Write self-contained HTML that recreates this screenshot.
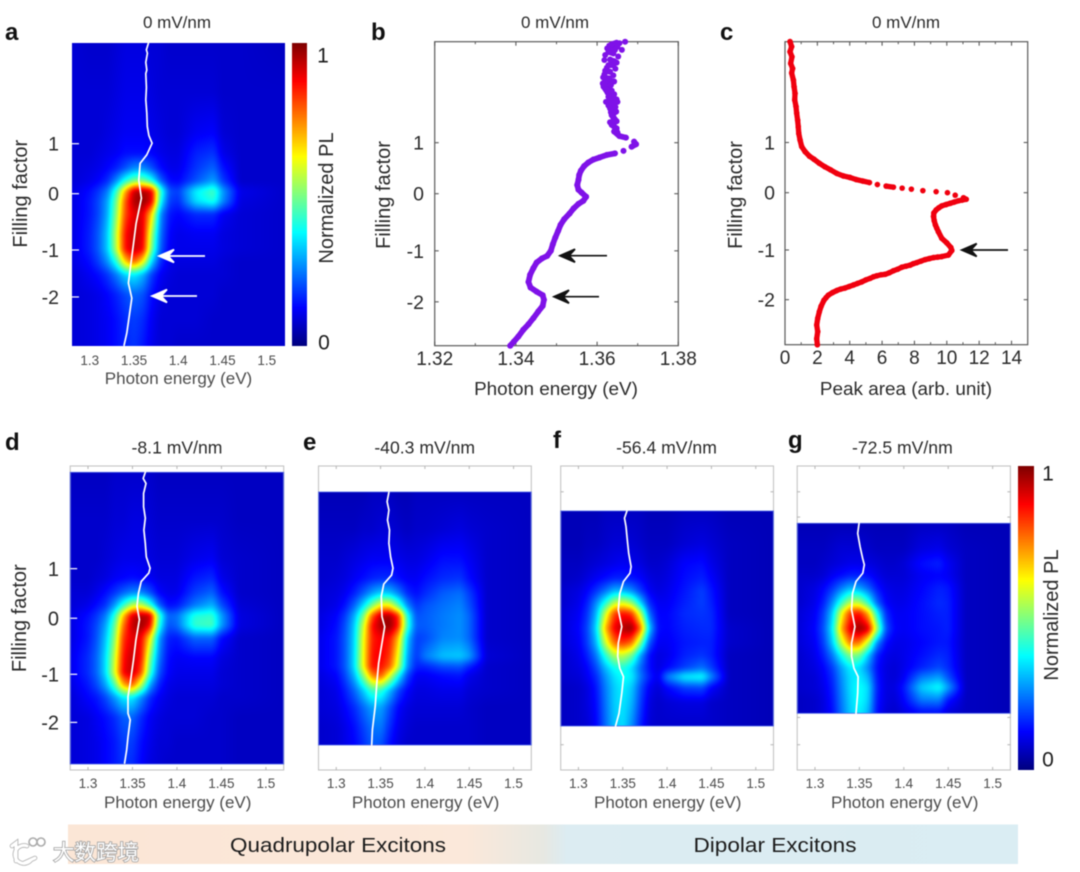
<!DOCTYPE html>
<html lang="en">
<head>
<meta charset="utf-8">
<title>Photoluminescence vs filling factor</title>
<style>
html,body{margin:0;padding:0;background:#fff;width:1080px;height:872px;overflow:hidden}
#root{position:relative;width:1080px;height:872px;background:#fff;filter:blur(0.4px);font-family:"Liberation Sans","Noto Sans CJK SC",sans-serif}
canvas{position:absolute;display:block}
svg{position:absolute;left:0;top:0}
</style>
</head>
<body>
<div id="root">
<canvas id="hm-a"></canvas>
<canvas id="hm-d"></canvas>
<canvas id="hm-e"></canvas>
<canvas id="hm-f"></canvas>
<canvas id="hm-g"></canvas>
<canvas id="cb-1"></canvas>
<canvas id="cb-2"></canvas>
<svg id="ov" width="1080" height="872" viewBox="0 0 1080 872" font-family="'Liberation Sans','Noto Sans CJK SC',sans-serif">
<defs>
<linearGradient id="bandGrad" x1="0" x2="1" y1="0" y2="0">
<stop offset="0" stop-color="#fbe6d6"/><stop offset="0.42" stop-color="#fbe8da"/><stop offset="0.5" stop-color="#e7e8e2"/><stop offset="0.525" stop-color="#dcecf2"/><stop offset="1" stop-color="#daedf3"/>
</linearGradient>
</defs>
<g id="letters" font-weight="bold" font-size="24" fill="#111">
<text x="5" y="40">a</text>
<text x="371" y="40">b</text>
<text x="720" y="40">c</text>
<text x="5" y="450">d</text>
<text x="303" y="450">e</text>
<text x="553" y="448">f</text>
<text x="788" y="448">g</text>
</g>
<g id="titles" fill="#2a2a2a" text-anchor="middle">
<text x="177" y="28" font-size="17">0 mV/nm</text>
<text x="555" y="28" font-size="17">0 mV/nm</text>
<text x="906" y="28" font-size="17">0 mV/nm</text>
<text x="177" y="453.5" font-size="17.6">-8.1 mV/nm</text>
<text x="424.7" y="453.5" font-size="17.6">-40.3 mV/nm</text>
<text x="666.5" y="453.5" font-size="17.6">-56.4 mV/nm</text>
<text x="902.4" y="453.5" font-size="17.6">-72.5 mV/nm</text>
</g>
<g id="band">
<rect x="68" y="824.5" width="950" height="39.5" fill="url(#bandGrad)"/>
<text x="338" y="852" font-size="20.5" text-anchor="middle" fill="#1c1c1c" textLength="216" lengthAdjust="spacingAndGlyphs">Quadrupolar Excitons</text>
<text x="775" y="852" font-size="20.5" text-anchor="middle" fill="#1c1c1c" textLength="163" lengthAdjust="spacingAndGlyphs">Dipolar Excitons</text>
</g>
<g id="watermark">
<path d="M12 846 L16 843 L16 861 M27 846 A9 9 0 1 0 31 860 M35 858 L24 863" fill="none" stroke="#b0b0b0" stroke-width="4.6" stroke-linecap="round"/>
<path d="M12 846 L16 843 L16 861 M27 846 A9 9 0 1 0 31 860 M35 858 L24 863" fill="none" stroke="#fff" stroke-width="3" stroke-linecap="round"/>
<circle cx="33" cy="842" r="4" fill="#fff" fill-opacity="0.4" stroke="#aaa" stroke-width="1.6"/>
<circle cx="41" cy="842" r="4" fill="#fff" fill-opacity="0.4" stroke="#aaa" stroke-width="1.6"/>
<text x="53" y="860" font-size="21.5" fill="#fff" stroke="#a0a0a0" stroke-width="1.6" paint-order="stroke" font-family="'Liberation Sans','Noto Sans CJK SC',sans-serif">大数跨境</text>
</g>
</svg>
</div>
<script>
/* ---------- shared axis values ---------- */
const photonEnergyCols = [1.28,1.30,1.31,1.32,1.33,1.34,1.35,1.36,1.37,1.38,1.39,1.40,1.42,1.44,1.45,1.47,1.52];
const heatmapEnergyTicks = [1.3,1.35,1.4,1.45,1.5];
const heatmapEnergyTickLabels = ['1.3','1.35','1.4','1.45','1.5'];
const fillingTickLabels = ['1','0','-1','-2'];
const fillingTicksA = [0.99,0,-1.115,-2.045];
const fillingTicksB = [1,0,-1.12,-2.12];
const fillingTicksC = [0.99,0,-1.13,-2.11];
const fillingTicksD = [1,0,-1.13,-2.10];
const outerTicksRight = [2.55,2.04,-2.0,-2.55];
const energyTicksB = [1.32,1.34,1.36,1.38];
const energyTickLabelsB = ['1.32','1.34','1.36','1.38'];
const energyMinorB = [1.33,1.35,1.37];
const areaTicksC = [0,2,4,6,8,10,12,14];
const areaTickLabelsC = ['0','2','4','6','8','10','12','14'];
const areaMinorC = [1,3,5,7,9,11,13];

/* ---------- heatmap filling rows and normalized PL (x100) ---------- */
const fillingRowsA = [3.0,2.0,1.2,0.8,0.5,0.25,0.05,-0.15,-0.4,-0.8,-1.1,-1.35,-1.6,-2.0,-2.5,-3.05];
const plA = [
[10,9,9,9,10,11,11,11,10,10,9,9,9,9,9,9,8],
[10,10,10,10,11,12,12,12,11,10,10,10,10,10,9,9,9],
[10,10,10,11,12,13,13,13,12,11,10,10,13,14,10,9,9],
[10,10,11,12,13,15,15,15,14,12,11,11,17,19,12,9,9],
[10,11,12,14,17,22,28,28,22,15,12,12,19,24,16,9,9],
[10,12,14,18,28,42,52,52,42,24,15,14,22,30,20,9,9],
[11,15,19,26,44,72,95,98,92,45,22,20,38,46,30,12,9],
[11,16,21,30,50,80,97,100,92,40,20,18,36,42,28,11,9],
[11,16,21,31,53,82,92,92,68,28,16,14,18,18,13,10,9],
[11,17,23,34,58,88,95,92,55,25,14,12,13,13,11,10,9],
[11,17,23,34,57,88,95,90,50,23,13,12,12,12,11,10,9],
[11,15,20,28,42,68,80,65,35,18,12,11,11,11,10,9,9],
[10,13,15,19,26,35,38,32,20,13,11,10,10,10,10,9,9],
[10,11,12,14,17,21,24,22,15,11,10,10,10,10,9,9,9],
[10,11,12,13,15,18,20,18,13,10,10,10,10,9,9,9,9],
[10,11,12,13,15,17,19,16,12,10,10,9,9,9,9,9,9]];

const fillingRowsD = [2.95,2.0,1.2,0.8,0.5,0.25,0.05,-0.15,-0.4,-0.8,-1.1,-1.35,-1.6,-2.0,-2.5,-2.95];
const plD = [
[8,8,8,8,9,9,9,9,9,8,8,8,8,8,8,8,8],
[9,9,9,9,10,10,11,11,10,9,9,9,9,9,9,8,8],
[9,9,9,10,11,12,12,12,11,10,10,10,12,13,10,9,8],
[9,9,10,11,13,14,15,14,13,11,11,11,16,18,12,9,8],
[10,10,12,15,19,24,28,28,22,14,12,12,20,24,16,9,8],
[10,12,15,19,29,44,58,60,45,24,15,16,26,32,22,10,8],
[11,15,19,26,42,70,93,97,95,46,24,25,42,44,30,11,8],
[11,16,21,30,48,78,95,99,90,42,22,24,44,46,30,11,8],
[11,16,22,33,52,84,92,90,66,30,17,16,24,24,15,9,8],
[12,18,24,36,58,88,95,88,52,26,15,13,14,14,11,9,8],
[12,18,24,36,60,90,95,82,45,22,14,12,12,12,10,9,8],
[11,16,21,30,46,72,80,58,30,17,12,11,11,11,10,9,8],
[10,14,16,21,29,38,38,28,18,13,11,10,10,10,9,9,8],
[10,11,13,15,18,23,24,18,13,11,10,10,10,9,9,8,8],
[10,11,12,14,16,20,20,15,12,10,10,9,9,9,9,8,8],
[10,11,12,14,16,19,18,14,11,10,9,9,9,9,9,8,8]];

const fillingRowsE = [2.55,1.8,1.2,0.8,0.5,0.25,0.05,-0.15,-0.4,-0.77,-0.98,-1.15,-1.45,-1.8,-2.2,-2.55];
const plE = [
[7,7,7,7,7,8,8,8,7,7,8,8,8,8,8,8,8],
[8,8,8,8,9,9,10,10,9,8,9,9,10,11,10,9,8],
[9,9,10,11,12,13,13,13,12,11,11,12,15,15,13,9,8],
[9,10,11,13,15,17,18,18,15,13,13,15,18,19,15,9,8],
[10,11,13,17,23,30,35,34,27,18,15,18,23,25,20,9,8],
[10,12,16,24,36,52,66,66,48,28,19,22,25,27,22,9,8],
[11,14,20,31,50,80,96,98,85,42,22,23,26,28,24,9,8],
[11,15,22,34,58,88,97,100,86,44,23,23,26,28,24,9,8],
[12,16,23,35,62,86,90,88,70,34,20,21,27,28,24,9,8],
[12,16,23,36,63,88,90,84,62,30,19,26,33,34,30,10,8],
[12,16,23,36,63,88,88,80,58,28,17,17,21,22,17,9,8],
[11,14,21,32,52,76,82,62,40,21,13,13,15,16,12,9,8],
[10,12,17,24,34,46,44,33,21,14,11,11,12,12,10,9,8],
[10,11,14,18,24,30,30,22,14,11,10,10,10,10,9,8,8],
[9,10,12,15,20,25,26,18,12,10,9,9,9,9,9,8,8],
[9,10,12,14,18,23,22,15,11,9,9,9,9,9,9,8,8]];

const fillingRowsF = [2.17,1.5,1.1,0.8,0.55,0.3,0.1,-0.2,-0.5,-0.75,-1.0,-1.18,-1.4,-1.7,-2.17];
const plF = [
[7,7,7,7,8,8,8,8,8,7,7,7,8,8,8,7,7],
[7,7,8,8,9,10,10,10,9,8,8,8,10,11,10,8,7],
[8,8,9,10,11,12,13,12,11,9,9,10,14,15,12,8,7],
[8,9,11,13,15,17,17,16,14,11,10,11,15,17,14,8,7],
[9,11,14,19,25,32,32,28,20,13,11,12,16,20,16,8,7],
[9,12,17,28,42,58,62,55,36,18,13,13,17,20,17,8,7],
[10,13,19,32,58,82,88,84,58,24,14,14,18,19,18,8,7],
[10,14,21,36,70,90,97,100,80,34,15,14,17,18,18,9,7],
[10,13,20,32,58,78,84,78,52,22,13,13,16,17,17,9,7],
[9,12,17,26,42,56,58,50,30,15,11,12,17,19,17,8,7],
[9,11,14,21,32,40,42,36,24,15,11,14,20,25,20,8,7],
[9,10,13,18,28,36,40,38,26,17,12,26,38,40,28,8,7],
[8,9,11,16,26,34,38,34,22,13,10,14,20,21,14,8,7],
[8,9,11,15,25,34,37,32,20,11,9,10,11,11,9,8,7],
[8,9,10,14,24,33,36,28,17,10,9,9,9,9,9,8,7]];

const fillingRowsG = [1.92,1.4,1.1,0.85,0.6,0.3,0.1,-0.22,-0.5,-0.75,-1.0,-1.2,-1.4,-1.65,-1.92];
const plG = [
[7,7,7,7,7,7,7,7,7,7,7,7,8,8,8,7,7],
[8,8,8,9,10,10,10,9,8,8,8,8,11,12,10,8,7],
[8,8,9,10,11,12,12,11,10,9,9,10,15,17,13,8,7],
[9,9,10,13,15,17,17,15,12,10,10,10,13,14,13,8,7],
[9,11,14,19,26,32,30,24,16,12,11,11,14,17,16,8,7],
[9,12,17,28,44,58,58,44,24,14,12,12,15,18,17,8,7],
[10,13,20,34,62,84,88,72,40,18,13,13,15,17,17,8,7],
[10,14,22,38,72,92,100,94,56,22,14,13,15,16,17,8,7],
[10,13,20,34,58,78,78,58,28,15,12,12,14,16,16,8,7],
[9,12,17,26,40,52,50,34,17,12,11,12,15,18,17,8,7],
[9,11,14,20,30,38,36,27,15,11,10,12,17,21,18,8,7],
[9,10,13,18,28,36,38,32,16,11,10,13,26,30,22,8,7],
[9,10,12,17,27,36,40,36,17,11,11,16,34,40,30,8,7],
[8,9,11,16,26,35,40,35,16,11,10,14,26,27,16,8,7],
[8,9,11,15,25,34,38,32,15,10,9,11,14,14,10,8,7]];

/* ---------- white peak-position traces ---------- */
const lineEnergyA = [1.3663,1.3640,1.3652,1.3634,1.3645,1.3634,1.3640,1.3634,1.3645,1.3650,1.3668,1.3705,1.3645,1.3569,1.3554,1.3584,1.3524,1.3475,1.3437,1.3475,1.3419,1.3388];
const lineFillingA = [2.98,2.85,2.78,2.6,2.45,2.38,2.1,1.86,1.6,1.33,1.15,1.0,0.77,0.6,0.27,-0.09,-0.59,-1.25,-1.77,-2.07,-2.76,-3.0];
const lineEnergyD = [1.3644,1.3621,1.3652,1.3625,1.3625,1.3644,1.3628,1.3644,1.3656,1.3698,1.3683,1.3598,1.3567,1.3551,1.3578,1.3539,1.3512,1.3474,1.3450,1.3450,1.3474,1.3450,1.3435,1.3412];
const lineFillingD = [2.94,2.82,2.72,2.52,2.25,2.02,1.78,1.51,1.24,1.01,0.91,0.74,0.50,0.24,-0.03,-0.44,-0.84,-1.31,-1.58,-1.92,-2.05,-2.39,-2.65,-2.92];
const lineEnergyE = [1.3594,1.3574,1.3594,1.3578,1.3601,1.3594,1.3613,1.3640,1.3625,1.3536,1.3508,1.3516,1.3547,1.3516,1.3478,1.3458,1.3439,1.3408,1.3400];
const lineFillingE = [2.54,2.35,2.18,1.98,1.78,1.51,1.24,1.01,0.87,0.69,0.44,0.03,-0.17,-0.50,-0.91,-1.31,-1.78,-2.25,-2.55];
const lineEnergyF = [1.3547,1.3520,1.3536,1.3551,1.3567,1.3594,1.3582,1.3508,1.3466,1.3450,1.3489,1.3450,1.3443,1.3466,1.3508,1.3489,1.3458,1.3419];
const lineFillingF = [2.16,2.02,1.85,1.58,1.31,1.04,0.91,0.74,0.50,0.17,-0.17,-0.50,-0.77,-1.01,-1.18,-1.51,-1.92,-2.17];
const lineEnergyG = [1.3497,1.3481,1.3508,1.3536,1.3555,1.3539,1.3462,1.3423,1.3412,1.3450,1.3412,1.3412,1.3439,1.3485,1.3481,1.3462];
const lineFillingG = [1.92,1.71,1.44,1.21,1.08,0.91,0.74,0.50,0.17,-0.17,-0.50,-0.77,-1.01,-1.18,-1.51,-1.92];

/* ---------- panel b: peak energy vs filling ---------- */
const peakEnergyB = [1.3655,1.3630,1.3650,1.3628,1.3640,1.3618,1.3642,1.3624,1.3645,1.3618,1.3640,1.3622,1.3642,1.3616,1.3626,1.3642,1.3632,1.3650,1.3628,1.3645,1.3634,1.3640,1.3648,1.3632,1.3642,1.3650,1.3669,1.3648,1.3636,1.3661,1.3625,1.3644,1.3620,1.3652,1.3632,1.3648,1.3628,1.3640,1.3620,1.3632,1.3615,1.3630,1.3614,1.3634,1.3622,1.3636,1.3628,1.3648,1.3622,1.3640,1.3632,1.3647,1.3636,1.3644,1.3636,1.3648,1.3642,1.3655,1.3671,1.3691,1.3696,1.3685,1.3665,1.3644,1.3624,1.3606,1.3591,1.3578,1.3568,1.3560,1.3556,1.3554,1.3551,1.3554,1.3562,1.3573,1.3566,1.3554,1.3542,1.3532,1.3519,1.3510,1.3504,1.3497,1.3491,1.3486,1.3477,1.3464,1.3451,1.3443,1.3435,1.3431,1.3436,1.3451,1.3466,1.3469,1.3466,1.3455,1.3443,1.3431,1.3418,1.3406,1.3395,1.3386];
const peakFillingB = [2.95,2.90,2.88,2.78,2.75,2.62,2.60,2.47,2.45,2.34,2.32,2.22,2.20,2.10,1.98,1.95,1.83,1.80,1.73,1.70,1.60,1.50,1.42,1.40,1.32,1.20,2.98,2.96,2.93,2.82,2.85,2.82,2.72,2.69,2.63,2.57,2.52,2.52,2.41,2.39,2.28,2.26,2.16,2.13,2.05,2.02,1.90,1.85,1.80,1.77,1.67,1.61,1.54,1.44,1.35,1.28,1.22,1.13,1.10,1.02,0.97,0.92,0.84,0.79,0.76,0.71,0.67,0.61,0.54,0.45,0.37,0.27,0.17,0.08,0.02,-0.06,-0.14,-0.20,-0.29,-0.39,-0.50,-0.61,-0.73,-0.86,-0.99,-1.12,-1.22,-1.27,-1.35,-1.46,-1.59,-1.73,-1.84,-1.92,-1.99,-2.08,-2.20,-2.31,-2.44,-2.56,-2.67,-2.80,-2.90,-2.98];

/* ---------- panel c: peak area vs filling ---------- */
const peakAreaC = [0.31,0.41,0.31,0.43,0.35,0.47,0.41,0.52,0.56,0.62,0.60,0.68,0.72,0.78,0.82,0.85,0.93,1.03,1.24,1.51,1.79,2.12,2.47,2.82,3.20,3.61,4.02,4.39,4.80,5.22,5.71,6.25,6.70,7.24,7.81,8.52,9.34,10.04,10.52,11.03,11.20,10.96,10.72,10.46,10.21,9.95,9.69,9.50,9.34,9.20,9.18,9.22,9.30,9.38,9.48,9.69,10.0,10.25,10.31,10.10,9.69,9.43,9.18,8.92,8.66,8.40,8.14,7.93,7.73,7.47,7.22,6.96,6.70,6.44,6.19,5.93,5.67,5.46,5.26,5.00,4.74,4.48,4.23,3.97,3.71,3.45,3.20,2.94,2.68,2.54,2.41,2.23,2.12,2.02,1.96,2.02,1.96,2.0];
const peakFillingC = [2.98,2.88,2.78,2.68,2.55,2.45,2.36,2.22,2.09,1.96,1.83,1.70,1.57,1.43,1.30,1.17,1.04,0.91,0.81,0.72,0.66,0.58,0.51,0.45,0.38,0.33,0.30,0.26,0.23,0.20,0.16,0.13,0.11,0.09,0.07,0.04,0.02,0,-0.05,-0.10,-0.13,-0.145,-0.16,-0.185,-0.21,-0.235,-0.26,-0.30,-0.34,-0.40,-0.47,-0.55,-0.64,-0.70,-0.77,-0.90,-0.99,-1.08,-1.14,-1.23,-1.26,-1.27,-1.28,-1.30,-1.32,-1.35,-1.38,-1.40,-1.43,-1.45,-1.47,-1.51,-1.54,-1.58,-1.61,-1.62,-1.64,-1.66,-1.69,-1.72,-1.76,-1.79,-1.82,-1.85,-1.88,-1.90,-1.93,-1.97,-2.02,-2.07,-2.12,-2.24,-2.35,-2.48,-2.61,-2.74,-2.88,-3.0];

/* ---------- helpers ---------- */
const NS = 'http://www.w3.org/2000/svg';
const ov = document.getElementById('ov');
function linear(d0,d1,r0,r1){const f=v=>r0+(v-d0)/(d1-d0)*(r1-r0);f.inv=p=>d0+(p-r0)/(r1-r0)*(d1-d0);return f;}
function mk(tag,attrs){const e=document.createElementNS(NS,tag);for(const k in attrs)e.setAttribute(k,attrs[k]);ov.appendChild(e);return e;}
function label(x,y,str,size,anchor,fill,rot){
  const a={x:x,y:y+size*0.36,'font-size':size,'text-anchor':anchor,fill:fill};
  if(rot)a.transform='rotate(-90 '+x+' '+y+')';
  const t=mk('text',a);t.textContent=str;return t;
}
function seg(x1,y1,x2,y2,col,w){return mk('line',{x1:x1,y1:y1,x2:x2,y2:y2,stroke:col,'stroke-width':w});}
function jet(v){
  const c=x=>Math.max(0,Math.min(1,x));
  return [c(1.5-Math.abs(4*v-3))*255,c(1.5-Math.abs(4*v-2))*255,c(1.5-Math.abs(4*v-1))*255];
}
function locate(arr,v,desc){
  const n=arr.length;
  if(desc){
    if(v>=arr[0])return [0,0];
    if(v<=arr[n-1])return [n-2,1];
    for(let i=0;i<n-1;i++)if(v<=arr[i]&&v>=arr[i+1])return [i,(arr[i]-v)/(arr[i]-arr[i+1])];
  }else{
    if(v<=arr[0])return [0,0];
    if(v>=arr[n-1])return [n-2,1];
    for(let i=0;i<n-1;i++)if(v>=arr[i]&&v<=arr[i+1])return [i,(v-arr[i])/(arr[i+1]-arr[i])];
  }
  return [0,0];
}
function boxBlur(src,w,h,r){
  const tmp=new Float32Array(w*h),out=new Float32Array(w*h);
  for(let y=0;y<h;y++)for(let x=0;x<w;x++){let s=0,c=0;for(let k=-r;k<=r;k++){const q=x+k;if(q>=0&&q<w){s+=src[y*w+q];c++;}}tmp[y*w+x]=s/c;}
  for(let x=0;x<w;x++)for(let y=0;y<h;y++){let s=0,c=0;for(let k=-r;k<=r;k++){const q=y+k;if(q>=0&&q<h){s+=tmp[q*w+x];c++;}}out[y*w+x]=s/c;}
  return out;
}
function drawHeatmap(id,left,top,right,bottom,xScale,yScale,rows,matrix){
  const cv=document.getElementById(id);
  const w=Math.round(right-left),h=Math.round(bottom-top);
  cv.width=w;cv.height=h;
  cv.style.left=left+'px';cv.style.top=top+'px';
  cv.style.width=(right-left)+'px';cv.style.height=(bottom-top)+'px';
  let field=new Float32Array(w*h);
  for(let j=0;j<h;j++){
    const n=yScale.inv(top+j+0.5),ry=locate(rows,n,true);
    for(let i=0;i<w;i++){
      const e=xScale.inv(left+i+0.5),rx=locate(photonEnergyCols,e,false);
      const a=matrix[ry[0]][rx[0]],b=matrix[ry[0]][rx[0]+1],c=matrix[ry[0]+1][rx[0]],d=matrix[ry[0]+1][rx[0]+1];
      field[j*w+i]=((a*(1-rx[1])+b*rx[1])*(1-ry[1])+(c*(1-rx[1])+d*rx[1])*ry[1])/100;
    }
  }
  field=boxBlur(boxBlur(field,w,h,2),w,h,2);
  const ctx=cv.getContext('2d'),img=ctx.createImageData(w,h);
  for(let p=0;p<w*h;p++){const col=jet(field[p]-0.015);img.data[p*4]=col[0];img.data[p*4+1]=col[1];img.data[p*4+2]=col[2];img.data[p*4+3]=255;}
  ctx.putImageData(img,0,0);
}
function drawColorbar(id,left,top,right,bottom){
  const cv=document.getElementById(id);
  const w=Math.round(right-left),h=Math.round(bottom-top);
  cv.width=w;cv.height=h;
  cv.style.left=left+'px';cv.style.top=top+'px';
  cv.style.width=(right-left)+'px';cv.style.height=(bottom-top)+'px';
  const ctx=cv.getContext('2d');
  for(let j=0;j<h;j++){const col=jet(1-j/(h-1));ctx.fillStyle='rgb('+col.map(Math.round).join(',')+')';ctx.fillRect(0,j,w,1);}
}
function drawTrace(xs,ys,xScale,yScale,name){
  let d='';
  for(let i=0;i<xs.length;i++)d+=(i?'L':'M')+xScale(xs[i]).toFixed(1)+' '+yScale(ys[i]).toFixed(1);
  const p=mk('path',{d:d,fill:'none',stroke:'#fff','stroke-width':1.7,'stroke-linejoin':'round','stroke-linecap':'round'});
  
  
}
function drawArrow(tipX,tailX,y,col,name){
  const p=mk('path',{d:'M'+tailX+' '+y+'L'+(tipX+9)+' '+y+'M'+tipX+' '+y+'L'+(tipX+15)+' '+(y-6.5)+'L'+(tipX+9)+' '+y+'L'+(tipX+15)+' '+(y+6.5)+'Z',fill:col,stroke:col,'stroke-width':1.7,'stroke-linejoin':'miter'});
  
  
}
function drawPoints(xs,ys,xScale,yScale,col,r,name,maxLink){
  for(let i=1;i<xs.length;i++){
    const x1=xScale(xs[i-1]),y1=yScale(ys[i-1]),x2=xScale(xs[i]),y2=yScale(ys[i]);
    if(Math.hypot(x2-x1,y2-y1)<maxLink){
      const l=seg(x1,y1,x2,y2,col,r*1.9);
      l.setAttribute('stroke-linecap','round');
      
      
    }
  }
  for(let i=0;i<xs.length;i++){
    const c=mk('circle',{cx:xScale(xs[i]),cy:yScale(ys[i]),r:r,fill:col});
    
    
  }
}

/* ---------- heatmap panels ---------- */
const heatmapPanels=[
 {id:'a',left:72,right:284.5,frameTop:43,frameBottom:346,hmTop:43,hmBottom:346,dTop:2.984,dBottom:-3.016,rows:fillingRowsA,pl:plA,lx:lineEnergyA,ly:lineFillingA,tickY:360,labY:378,labX:178.5,framed:false,yt:fillingTicksA,ylabX:20,ylabSize:20,ytSize:19.5,ytRight:59},
 {id:'d',left:70.2,right:283.7,frameTop:466,frameBottom:770,hmTop:472.3,hmBottom:764,dTop:3.07,dBottom:-3.06,rows:fillingRowsD,pl:plD,lx:lineEnergyD,ly:lineFillingD,tickY:783,labY:802,labX:177.7,framed:true,yt:fillingTicksD,ylabX:19,ylabSize:20,ytSize:20,ytRight:59},
 {id:'e',left:318.5,right:531.3,frameTop:466,frameBottom:770,hmTop:492,hmBottom:745,dTop:3.07,dBottom:-3.06,rows:fillingRowsE,pl:plE,lx:lineEnergyE,ly:lineFillingE,tickY:783,labY:802,labX:425.6,framed:true},
 {id:'f',left:560.7,right:773.5,frameTop:466,frameBottom:770,hmTop:511,hmBottom:726,dTop:3.07,dBottom:-3.06,rows:fillingRowsF,pl:plF,lx:lineEnergyF,ly:lineFillingF,tickY:783,labY:802,labX:667.7,framed:true,outer:true},
 {id:'g',left:797.2,right:1010.4,frameTop:466,frameBottom:770,hmTop:523.3,hmBottom:713.3,dTop:3.07,dBottom:-3.06,rows:fillingRowsG,pl:plG,lx:lineEnergyG,ly:lineFillingG,tickY:783,labY:802,labX:904.7,framed:true,outer:true}
];
heatmapPanels.forEach(function(P){
  const xS=linear(1.28,1.52,P.left,P.right);
  const yS=linear(P.dBottom,P.dTop,P.frameBottom,P.frameTop);
  drawHeatmap('hm-'+P.id,P.left,P.hmTop,P.right,P.hmBottom,xS,yS,P.rows,P.pl);
  if(P.framed){
    const fr=mk('rect',{x:P.left,y:P.frameTop,width:P.right-P.left,height:P.frameBottom-P.frameTop,fill:'none',stroke:'#c4c4c4','stroke-width':1.1});
    
    
    const hb=mk('rect',{x:P.left,y:P.hmTop,width:P.right-P.left,height:P.hmBottom-P.hmTop,fill:'none',stroke:'#4a62e6','stroke-width':0.8});
    
    
    heatmapEnergyTicks.forEach(function(v){
      const t1=seg(xS(v),P.frameTop,xS(v),P.frameTop+3,'#b5b5b5',1);
      
      
      const t2=seg(xS(v),P.frameBottom,xS(v),P.frameBottom-3,'#b5b5b5',1);
      
      
    });
  }
  if(P.outer){
    outerTicksRight.forEach(function(n){
      const y=yS(n);
      if(y>P.hmTop&&y<P.hmBottom)return;
      const tl=seg(P.left,y,P.left+3,y,'#b5b5b5',1);
      
      
      const tr=seg(P.right,y,P.right-3,y,'#b5b5b5',1);
      
      
    });
  }
  heatmapEnergyTicks.forEach(function(v,i){
    const t=label(xS(v),P.tickY,heatmapEnergyTickLabels[i],13.5,'middle','#4c4c4c');
    
    
  });
  const xl=label(P.labX,P.labY,'Photon energy (eV)',17,'middle','#4c4c4c');
  
  
  if(P.yt){
    P.yt.forEach(function(n,i){
      const tk=seg(P.left,yS(n),P.left+7,yS(n),'#fff',1.2);
      
      
      const t=label(P.ytRight,yS(n),fillingTickLabels[i],P.ytSize,'end','#2a2a2a');
      
      
    });
    const yl=label(P.ylabX,yS(0),'Filling factor',P.ylabSize,'middle','#2a2a2a',true);
    
    
  }
  drawTrace(P.lx,P.ly,xS,yS,'peak-trace-'+P.id);
  if(P.id==='a'){
    drawArrow(159,205,256,'#fff','arrow-a-upper');
    drawArrow(152,197,296,'#fff','arrow-a-lower');
  }
});

/* ---------- colorbars ---------- */
drawColorbar('cb-1',292,43,307,346);
drawColorbar('cb-2',1018.3,466,1033.8,770);
const cb1Hi=label(323,55,'1',21,'middle','#1c1c1c');


const cb1Lo=label(324,342,'0',21,'middle','#1c1c1c');


const cb1T=label(326,198,'Normalized PL',20,'middle','#2a2a2a',true);


const cb2Hi=label(1048,473,'1',21,'middle','#1c1c1c');


const cb2Lo=label(1048,759,'0',21,'middle','#1c1c1c');


const cb2T=label(1051,615,'Normalized PL',20,'middle','#2a2a2a',true);



/* ---------- panel b ---------- */
(function(){
  const L=434.7,R=678.3,T=41.7,B=345.7;
  const xS=linear(1.32,1.38,L,R),yS=linear(-2.98,2.98,B,T);
  const fr=mk('rect',{x:L,y:T,width:R-L,height:B-T,fill:'#fff',stroke:'#5a5a5a','stroke-width':1.2});
  
  
  energyTicksB.forEach(function(v,i){
    const a=seg(xS(v),B,xS(v),B-4,'#5a5a5a',1.1);
    
    
    const b=seg(xS(v),T,xS(v),T+4,'#5a5a5a',1.1);
    
    
    const t=label(xS(v),358,energyTickLabelsB[i],19,'middle','#2a2a2a');
    
    
  });
  energyMinorB.forEach(function(v){
    const a=seg(xS(v),B,xS(v),B-2.5,'#5a5a5a',1);
    
    
    const b=seg(xS(v),T,xS(v),T+2.5,'#5a5a5a',1);
    
    
  });
  fillingTicksB.forEach(function(n,i){
    const a=seg(L,yS(n),L+4,yS(n),'#5a5a5a',1.1);
    
    
    const b=seg(R,yS(n),R-4,yS(n),'#5a5a5a',1.1);
    
    
    const t=label(424,yS(n),fillingTickLabels[i],19.5,'end','#2a2a2a');
    
    
  });
  const xl=label(556,388,'Photon energy (eV)',18.9,'middle','#2a2a2a');
  
  
  const yl=label(383,195,'Filling factor',20,'middle','#2a2a2a',true);
  
  
  drawPoints(peakEnergyB,peakFillingB,xS,yS,'#7f12e8',3,'peak-energy-point',8.5);
  drawArrow(560,607,255.7,'#111','arrow-b-upper');
  drawArrow(554,599,296.7,'#111','arrow-b-lower');
})();

/* ---------- panel c ---------- */
(function(){
  const L=785,R=1027.7,T=41.7,B=344.7;
  const xS=linear(0,15,L,R),yS=linear(-2.998,2.978,B,T);
  const fr=mk('rect',{x:L,y:T,width:R-L,height:B-T,fill:'#fff',stroke:'#5a5a5a','stroke-width':1.2});
  
  
  areaTicksC.forEach(function(v,i){
    const a=seg(xS(v),B,xS(v),B-4,'#5a5a5a',1.1);
    
    
    const b=seg(xS(v),T,xS(v),T+4,'#5a5a5a',1.1);
    
    
    const t=label(xS(v),357,areaTickLabelsC[i],19,'middle','#2a2a2a');
    
    
  });
  areaMinorC.forEach(function(v){
    const a=seg(xS(v),B,xS(v),B-2.5,'#5a5a5a',1);
    
    
    const b=seg(xS(v),T,xS(v),T+2.5,'#5a5a5a',1);
    
    
  });
  fillingTicksC.forEach(function(n,i){
    const a=seg(L,yS(n),L+4,yS(n),'#5a5a5a',1.1);
    
    
    const b=seg(R,yS(n),R-4,yS(n),'#5a5a5a',1.1);
    
    
    const t=label(775,yS(n),fillingTickLabels[i],19.5,'end','#2a2a2a');
    
    
  });
  const xl=label(906,388,'Peak area (arb. unit)',18.9,'middle','#2a2a2a');
  
  
  const yl=label(735,195,'Filling factor',20,'middle','#2a2a2a',true);
  
  
  drawPoints(peakAreaC,peakFillingC,xS,yS,'#f0000f',2.8,'peak-area-point',7.5);
  drawArrow(961.7,1008,250,'#111','arrow-c');
})();
</script>
</body>
</html>
